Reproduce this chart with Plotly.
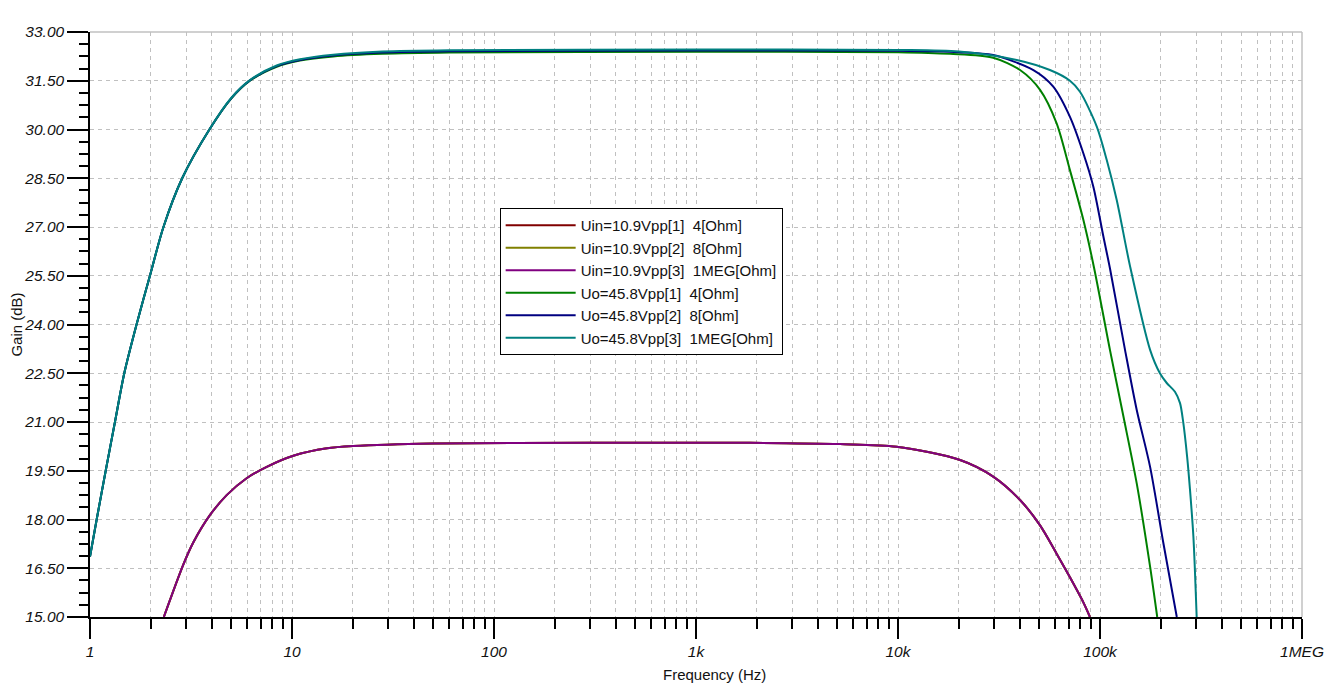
import plotly.graph_objects as go

# Частоты (Гц) и усиление (дБ)
uin_freq = [2.32, 2.9, 3.25, 3.93, 4.75, 5.96, 7.5, 10.15, 14.9, 20.1, 50, 300, 1850, 5165, 9850, 20300,
            29600, 40200, 50500, 61000, 71000, 82700, 89200]
uin_gain = [15.0, 16.62, 17.3, 18.14, 18.75, 19.27, 19.62, 19.96, 20.19, 20.26, 20.34, 20.36, 20.36, 20.32,
            20.24, 19.83, 19.32, 18.6, 17.82, 16.95, 16.22, 15.45, 15.0]

uo4_freq = [1, 1.079, 1.196, 1.329, 1.478, 1.70, 1.98, 2.31, 2.86, 3.90, 5.0, 6.19, 8.4, 10.95, 16, 28,
            60, 1000, 10000, 18100, 29600, 40200, 50500, 61000, 71000, 82700, 93500, 112000, 130700,
            152000, 177000, 192000]
uo4_gain = [16.86, 18.0, 19.5, 21.0, 22.5, 24.0, 25.5, 27.0, 28.5, 30.0, 30.95, 31.5, 31.93, 32.12, 32.25, 32.33,
            32.37, 32.39, 32.38, 32.33, 32.21, 31.83, 31.22, 30.19, 28.75, 27.22, 25.74, 23.22, 21.16,
            19.11, 16.55, 15.0]

uo8_freq = [1, 1.079, 1.196, 1.329, 1.478, 1.70, 1.98, 2.31, 2.86, 3.90, 5.0, 6.19, 8.4, 10.95, 16, 28,
            60, 1000, 10000, 20000, 29600, 46800, 58700, 71000, 82700, 92700, 104000, 112000, 133000,
            152000, 177000, 206000, 240000]
uo8_gain = [16.86, 18.0, 19.5, 21.0, 22.5, 24.0, 25.5, 27.0, 28.5, 30.0, 30.96, 31.51, 31.95, 32.14, 32.28, 32.37,
            32.41, 32.43, 32.42, 32.38, 32.29, 31.83, 31.32, 30.39, 29.27, 28.24, 26.7, 25.73, 23.22,
            21.37, 19.62, 17.27, 15.0]

uo1m_freq = [1, 1.079, 1.196, 1.329, 1.478, 1.70, 1.98, 2.31, 2.86, 3.90, 5.0, 6.19, 8.4, 10.95, 16, 28,
             60, 1000, 10000, 20000, 38700, 56500, 71000, 79600, 96400, 108000, 121000, 141000,
             177000, 198000, 214000, 235000, 249000, 258000, 270000, 279000, 290000, 301000]
uo1m_gain = [16.86, 18.0, 19.5, 21.0, 22.5, 24.0, 25.5, 27.0, 28.5, 30.0, 30.97, 31.52, 31.97, 32.16, 32.3, 32.4,
             32.44, 32.46, 32.45, 32.4, 32.14, 31.83, 31.5, 31.16, 30.09, 29.06, 27.83, 25.78,
             23.22, 22.5, 22.2, 21.93, 21.58, 21.01, 19.93, 18.91, 17.47, 15.0]

x_tickvals = [1, 10, 100, 1000, 10000, 100000, 1000000]
x_ticktext = ["1", "10", "100", "1k", "10k", "100k", "1MEG"]
y_tickvals = [15.0, 16.5, 18.0, 19.5, 21.0, 22.5, 24.0, 25.5, 27.0, 28.5, 30.0, 31.5, 33.0]

# Кривые: (название, частоты, усиление, цвет)
series = [
    ("Uin=10.9Vpp[1]\u00a0 4[Ohm]", uin_freq, uin_gain, "#800000"),
    ("Uin=10.9Vpp[2]\u00a0 8[Ohm]", uin_freq, uin_gain, "#808000"),
    ("Uin=10.9Vpp[3]\u00a0 1MEG[Ohm]", uin_freq, uin_gain, "#800080"),
    ("Uo=45.8Vpp[1]\u00a0 4[Ohm]", uo4_freq, uo4_gain, "#008000"),
    ("Uo=45.8Vpp[2]\u00a0 8[Ohm]", uo8_freq, uo8_gain, "#000080"),
    ("Uo=45.8Vpp[3]\u00a0 1MEG[Ohm]", uo1m_freq, uo1m_gain, "#008080"),
]

fig = go.Figure()

for name, fx, gy, color in series:
    fig.add_trace(
        go.Scatter(
            x=fx,
            y=gy,
            mode="lines",
            name=name,
            line=dict(color=color, width=2, shape="spline", smoothing=0.8),
        )
    )

tick_font = dict(family="Liberation Sans", size=15.5, color="#111111", style="italic")
title_font = dict(family="Liberation Sans, Arial", size=15, color="#111111")

minor_x = [m * 10 ** d for d in range(6) for m in range(2, 10)]

# Общие настройки сетки
grid_props = dict(showgrid=True, gridcolor="#c0c0c0", griddash="4px,4px", gridwidth=1)

fig.update_xaxes(
    type="log",
    range=[0, 6],
    automargin=False,
    tickvals=x_tickvals,
    ticktext=["<i>%s</i>" % t for t in x_ticktext],
    ticks="outside",
    ticklen=20,
    tickwidth=1.5,
    tickcolor="black",
    tickfont=tick_font,
    showline=True,
    linecolor="black",
    linewidth=1.5,
    zeroline=False,
    minor=dict(tickvals=minor_x, ticks="outside", ticklen=10, tickwidth=1.5, tickcolor="black", **grid_props),
    **grid_props,
)

fig.update_yaxes(
    range=[15, 33],
    automargin=False,
    tickvals=y_tickvals,
    ticktext=["<i>%.2f</i>" % v for v in y_tickvals],
    ticks="outside",
    ticklen=21,
    tickwidth=1.5,
    tickcolor="black",
    tickfont=tick_font,
    showline=True,
    linecolor="black",
    linewidth=1.5,
    zeroline=False,
    minor=dict(dtick=0.375, tick0=15, ticks="outside", ticklen=9, tickwidth=1.5, tickcolor="black", showgrid=False),
    title=dict(text="Gain (dB)", font=title_font, standoff=0),
    **grid_props,
)

# Подпись оси X (смещена вправо, как в исходнике)
fig.add_annotation(
    text="Frequency (Hz)",
    xref="paper", yref="paper",
    x=0.515, y=-0.099,
    xanchor="center", yanchor="middle",
    showarrow=False,
    font=title_font,
)

# Серая рамка сверху и справа
fig.add_shape(type="line", xref="paper", yref="paper", x0=0, x1=1, y0=1, y1=1,
              line=dict(color="#c0c0c0", width=1.5))
fig.add_shape(type="line", xref="paper", yref="paper", x0=1, x1=1, y0=0, y1=1,
              line=dict(color="#c0c0c0", width=1.5))

fig.update_layout(
    width=1341,
    height=694,
    plot_bgcolor="white",
    paper_bgcolor="white",
    margin=dict(l=82, r=47, t=24, b=85, pad=0),
    showlegend=True,
    legend=dict(
        x=0.338,
        y=0.699,
        xanchor="left",
        yanchor="top",
        bgcolor="white",
        bordercolor="black",
        borderwidth=1,
        font=dict(family="Liberation Sans, Arial", size=15, color="#111111"),
        itemwidth=70,
        tracegroupgap=0,
    ),
)

fig.write_html("out.html")
